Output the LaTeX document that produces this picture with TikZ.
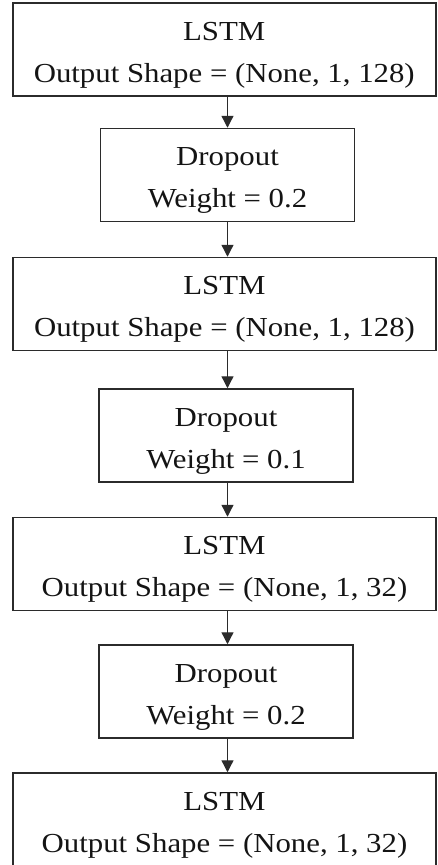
\documentclass[tikz,border=0pt]{standalone}
\usepackage{fontspec}
\setmainfont[FakeStretch=1.12]{Liberation Serif}
\usetikzlibrary{arrows.meta}
\definecolor{edgec}{HTML}{2B2B2B}
\definecolor{txtc}{HTML}{141414}
\newcommand{\twoline}[2]{\vtop{\baselineskip=42pt\halign{\hfil##\hfil\cr #1\cr #2\cr}}}
\tikzset{
  boxbase/.style={draw=edgec, line width=1.5pt, fill=white, inner sep=0pt,
    text=txtc, font=\fontsize{27.5pt}{42pt}\selectfont, text height=20pt, text depth=39pt},
  lstmbox/.style={boxbase, minimum width=423pt, minimum height=93pt},
  dropbox/.style={boxbase, minimum width=254pt, minimum height=93pt},
  flowarr/.style={draw=edgec, line width=1.3pt, -{Triangle[length=12pt,width=12pt]}}
}
\begin{document}
\begin{tikzpicture}[x=1pt,y=-1pt]
\useasboundingbox (0,0) rectangle (437,865);
\node[lstmbox] (b1) at (224.25,49.5) {\twoline{LSTM}{Output Shape = (None, 1, 128)}};
\node[dropbox] (b2) at (227.5,175) {\twoline{Dropout}{Weight = 0.2}};
\node[lstmbox] (b3) at (224.5,304) {\twoline{LSTM}{Output Shape = (None, 1, 128)}};
\node[dropbox] (b4) at (226,435.5) {\twoline{Dropout}{Weight = 0.1}};
\node[lstmbox] (b5) at (224.5,564) {\twoline{LSTM}{Output Shape = (None, 1, 32)}};
\node[dropbox] (b6) at (226,691.5) {\twoline{Dropout}{Weight = 0.2}};
\node[lstmbox] (b7) at (224.5,819.5) {\twoline{LSTM}{Output Shape = (None, 1, 32)}};
\coordinate (ax) at (227.5,0);
\draw[flowarr] (b1.south -| ax) -- (b2.north -| ax);
\draw[flowarr] (b2.south -| ax) -- (b3.north -| ax);
\draw[flowarr] (b3.south -| ax) -- (b4.north -| ax);
\draw[flowarr] (b4.south -| ax) -- (b5.north -| ax);
\draw[flowarr] (b5.south -| ax) -- (b6.north -| ax);
\draw[flowarr] (b6.south -| ax) -- (b7.north -| ax);
\end{tikzpicture}
\end{document}
